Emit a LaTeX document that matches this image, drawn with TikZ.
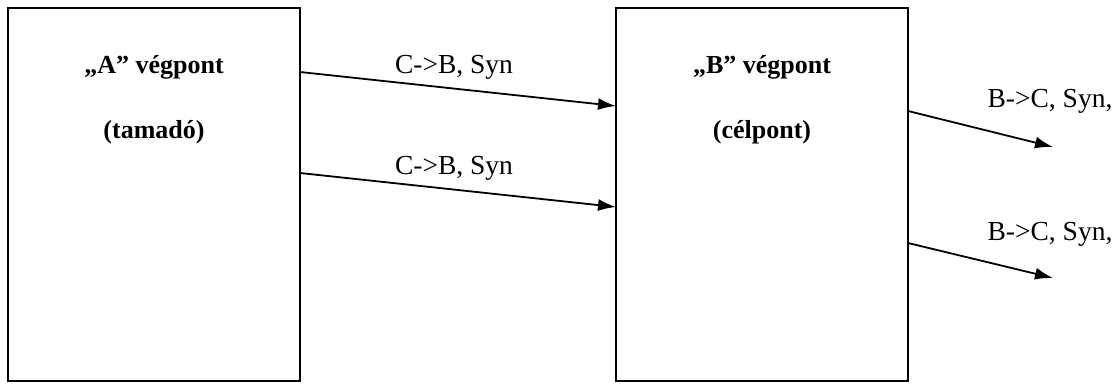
\documentclass[tikz,border=0pt]{standalone}
\usepackage{fontspec}
\setmainfont{Liberation Serif}
\usetikzlibrary{arrows.meta}
\tikzset{
  box/.style={draw,line width=2pt,inner sep=0pt,minimum width=292pt,minimum height=373pt},
  title/.style={anchor=base,font=\fontsize{26}{30}\selectfont\bfseries},
  msg/.style={anchor=base,font=\fontsize{27.5}{32}\selectfont}
}
\begin{document}
\begin{tikzpicture}[x=1pt,y=-1pt,>={Latex[length=18pt,width=12pt]}]
\useasboundingbox (0,0) rectangle (1116,383);
% the two end points
\node[box] (A) at (154,194.5) {};
\node[box] (B) at (762,194.5) {};
\node[title] (Aname) at (154,73) {„A” végpont};
\node[title] (Arole) at (154,138) {(tamadó)};
\node[title] (Bname) at (762,73) {„B” végpont};
\node[title] (Brole) at (762,138) {(célpont)};
% arrow ends
\coordinate (a1) at (300,72);
\coordinate (a2) at (300,173);
\coordinate (b1) at (616,106);
\coordinate (b2) at (616,207);
\coordinate (b3) at (908,111);
\coordinate (b4) at (908,243);
\coordinate (c1) at (1053,147);
\coordinate (c2) at (1053,278);
\draw[->,line width=1.8pt] (a1)--(b1);
\draw[->,line width=1.8pt] (a2)--(b2);
\draw[->,line width=1.8pt] (b3)--(c1);
\draw[->,line width=1.8pt] (b4)--(c2);
\node[msg] (m1) at (454,73) {C->B, Syn};
\node[msg] (m2) at (454,174) {C->B, Syn};
\node[msg] (m3) at (1050,107) {B->C, Syn,};
\node[msg] (m4) at (1050,240) {B->C, Syn,};
\end{tikzpicture}
\end{document}
